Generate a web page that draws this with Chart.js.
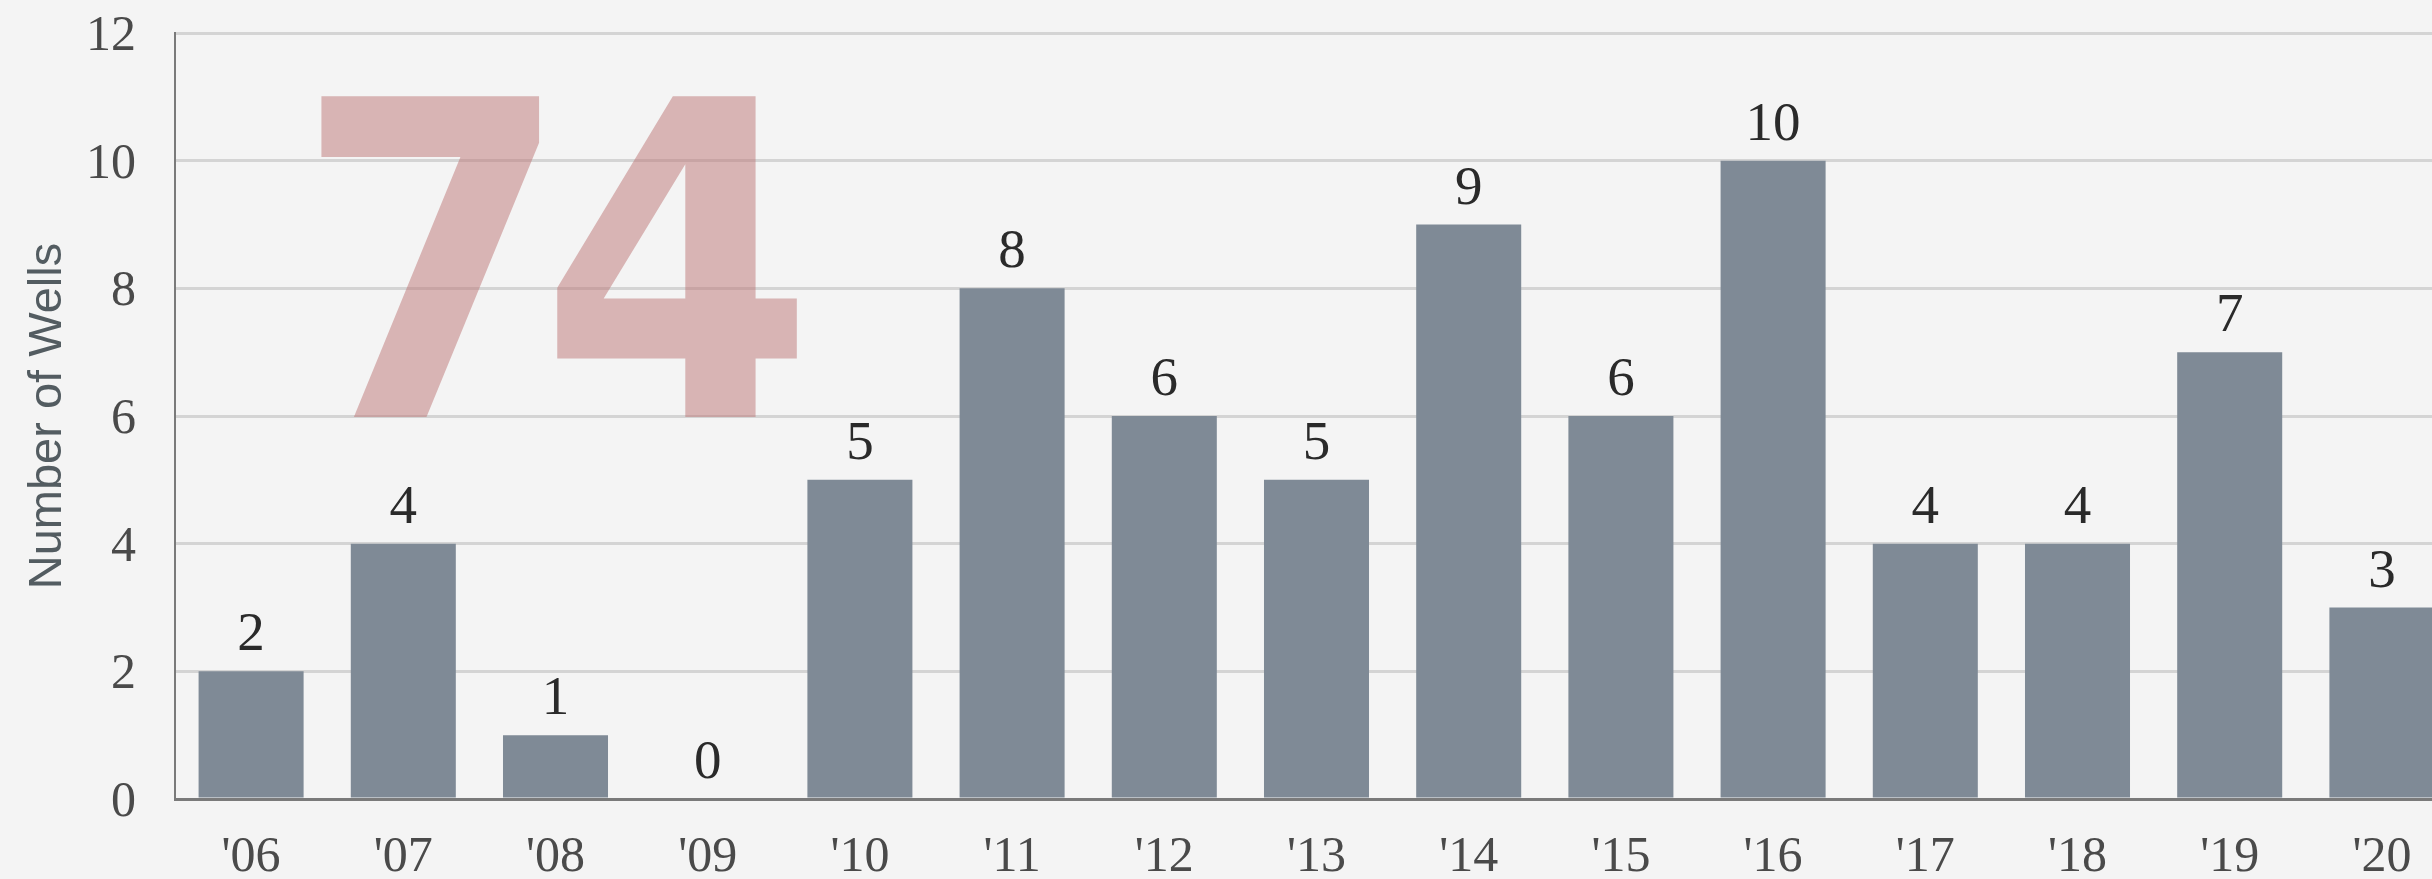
<!DOCTYPE html>
<html>
<head>
<meta charset="utf-8">
<script src="https://cdn.jsdelivr.net/npm/chart.js@4"></script>
<style>
  html, body { margin: 0; padding: 0; background: #f4f4f4; overflow: hidden; }
  #wrap { position: relative; top: -31px; width: 2460px; height: 910px; }
</style>
</head>
<body>
<div id="wrap"><canvas id="wellsChart"></canvas></div>
<script>
// Wells per year
var years = ["'06", "'07", "'08", "'09", "'10", "'11", "'12", "'13", "'14", "'15", "'16", "'17", "'18", "'19", "'20"];
var wells = [2, 4, 1, 0, 5, 8, 6, 5, 9, 6, 10, 4, 4, 7, 3];
var yTicks = [0, 2, 4, 6, 8, 10, 12];

// big total in the background (sum of all wells)
var totalWells = wells.reduce(function (a, b) { return a + b; }, 0);

var totalMark = {
    id: 'totalMark',
    beforeDatasetsDraw: function (chart) {
        var ctx = chart.ctx;
        var area = chart.chartArea;
        ctx.save();
        ctx.font = 'bold 440px "DejaVu Sans Condensed", "DejaVu Sans", sans-serif';
        ctx.letterSpacing = '-31px';
        ctx.fillStyle = 'rgba(190, 120, 120, 0.52)';
        ctx.textAlign = 'left';
        ctx.textBaseline = 'alphabetic';
        ctx.fillText(String(totalWells), area.left + 120, area.top + 384);
        ctx.restore();
    }
};

// numbers above the bars
var barValues = {
    id: 'barValues',
    afterDatasetsDraw: function (chart) {
        var ctx = chart.ctx;
        var meta = chart.getDatasetMeta(0);
        ctx.save();
        ctx.font = '55px "Liberation Serif", "Times New Roman", serif';
        ctx.fillStyle = '#2a2a2a';
        ctx.textAlign = 'center';
        ctx.textBaseline = 'alphabetic';
        meta.data.forEach(function (bar, i) {
            ctx.fillText(String(wells[i]), bar.x, bar.y - 21);
        });
        ctx.restore();
    }
};

var ctx = document.getElementById('wellsChart').getContext('2d');
var wellsChart = new Chart(ctx, {
    type: 'bar',
    data: {
        labels: years,
        datasets: [
            {
                label: 'Number of Wells',
                data: wells,
                backgroundColor: '#7f8a96',
                borderWidth: 0,
                categoryPercentage: 1.0,
                barPercentage: 0.69
            }
        ]
    },
    options: {
        responsive: true,
        maintainAspectRatio: false,
        devicePixelRatio: 1,
        animation: false,
        layout: { padding: { top: 0, right: 2, left: 0, bottom: 0 } },
        plugins: {
            legend: { display: false },
            tooltip: { enabled: false }
        },
        scales: {
            x: {
                grid: { display: false, drawTicks: false },
                border: { display: true, color: '#7a7a7a', width: 3 },
                ticks: {
                    color: '#4a4a4a',
                    padding: 29,
                    font: { family: '"Liberation Serif", "Times New Roman", serif', size: 50 }
                },
                afterFit: function (scale) { scale.height = 80; }
            },
            y: {
                min: 0,
                max: 12,
                afterBuildTicks: function (scale) {
                    scale.ticks = yTicks.map(function (v) { return { value: v }; });
                },
                grid: { color: '#d4d4d4', lineWidth: 3, drawTicks: false },
                border: { display: true, color: '#7a7a7a', width: 2 },
                ticks: {
                    color: '#4a4a4a',
                    padding: 39,
                    labelOffset: 4,
                    font: { family: '"Liberation Serif", "Times New Roman", serif', size: 50, lineHeight: 1.0 }
                },
                title: {
                    display: true,
                    text: 'Number of Wells',
                    color: '#535c61',
                    padding: { top: 20, bottom: 0 },
                    font: { family: '"Liberation Sans", Arial, sans-serif', size: 47 }
                },
                afterFit: function (scale) { scale.width = 175; }
            }
        }
    },
    plugins: [totalMark, barValues]
});
</script>
</body>
</html>
